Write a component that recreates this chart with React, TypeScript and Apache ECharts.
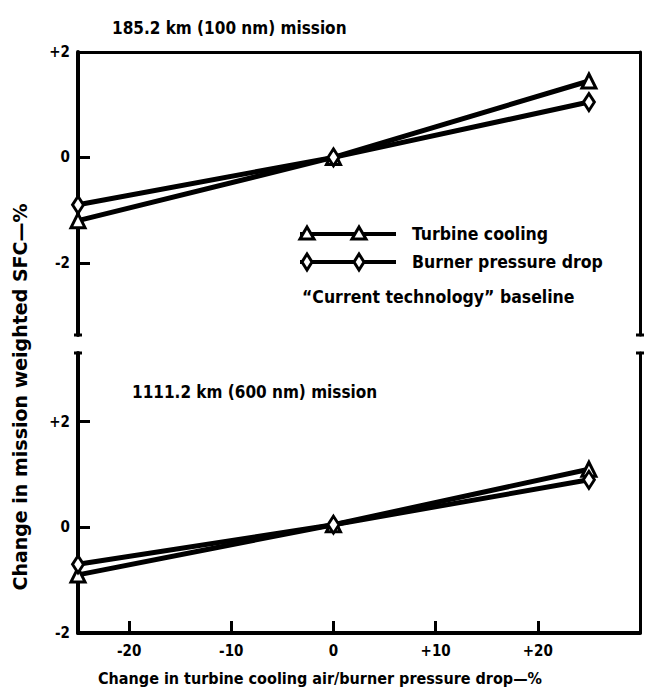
import React, { useEffect, useRef } from "react";
import * as echarts from "echarts";

const xValues = [-25, 0, 25];
const seriesNames = ["Turbine cooling", "Burner pressure drop"];
const shortTurbine = [-1.2, 0, 1.45];
const shortBurner = [-0.9, 0, 1.05];
const longTurbine = [-0.9, 0.05, 1.1];
const longBurner = [-0.7, 0.05, 0.9];
const xTicks = [-20, -10, 0, 10, 20];
const yTicks = [-2, 0, 2];
const panelTitles = ["185.2 km (100 nm) mission", "1111.2 km (600 nm) mission"];
const baselineNote = "\u201cCurrent technology\u201d baseline";
const xTitle = "Change in turbine cooling air/burner pressure drop\u2014%";
const yTitle = "Change in mission weighted SFC\u2014%";

const FONT = "'DejaVu Sans Condensed', 'DejaVu Sans', sans-serif";
const BLACK = "#000";

const fmt = (v: number) => (v > 0 ? "+" + v : String(v));

export default function App() {
  const ref = useRef<HTMLDivElement>(null);
  useEffect(() => {
    if (!ref.current) return;
    const chart = echarts.init(ref.current, undefined, { renderer: "svg" });
    const left = 78;
    const width = 562;
    const lineStyle = { color: BLACK, width: 4 };
    const hiddenAxisBits = {
      axisTick: { show: false },
      axisLabel: { show: false },
      splitLine: { show: false },
    };
    const yAxisLeft = (gridIndex: number, min: number, max: number) => ({
      type: "value",
      gridIndex,
      position: "left",
      min,
      max,
      axisLine: { show: true, onZero: false, lineStyle },
      axisTick: {
        show: true,
        inside: true,
        length: 12,
        customValues: yTicks,
        lineStyle: { color: BLACK, width: 3 },
      },
      axisLabel: {
        show: true,
        customValues: yTicks,
        formatter: fmt,
        color: BLACK,
        fontFamily: FONT,
        fontWeight: "bold",
        fontSize: 15,
        margin: 8,
      },
      splitLine: { show: false },
    });
    const yAxisRight = (gridIndex: number, min: number, max: number) => ({
      type: "value",
      gridIndex,
      position: "right",
      min,
      max,
      axisLine: { show: true, onZero: false, lineStyle: { color: BLACK, width: 3 } },
      ...hiddenAxisBits,
    });
    const mkSeries = (
      name: string,
      data: number[],
      xi: number,
      yi: number,
      symbol: string,
      size: any
    ) => ({
      name,
      type: "line",
      xAxisIndex: xi,
      yAxisIndex: yi,
      data: xValues.map((x, i) => [x, data[i]]),
      symbol,
      symbolSize: size,
      showSymbol: true,
      lineStyle: { color: BLACK, width: 5 },
      itemStyle: { color: "#fff", borderColor: BLACK, borderWidth: 3 },
      z: 3,
    });
    const legendRow = (y: number, symbol: "tri" | "dia", label: string) => {
      const xs = [307, 359];
      const items: any[] = [
        {
          type: "line",
          shape: { x1: 300, y1: y, x2: 396, y2: y },
          style: { stroke: BLACK, lineWidth: 4 },
        },
      ];
      xs.forEach((cx) => {
        if (symbol === "tri") {
          items.push({
            type: "polygon",
            shape: { points: [[cx, y - 7], [cx + 7, y + 5], [cx - 7, y + 5]] },
            style: { fill: "#fff", stroke: BLACK, lineWidth: 3 },
          });
        } else {
          items.push({
            type: "polygon",
            shape: { points: [[cx, y - 8], [cx + 5, y], [cx, y + 8], [cx - 5, y]] },
            style: { fill: "#fff", stroke: BLACK, lineWidth: 3 },
          });
        }
      });
      items.push({
        type: "text",
        x: 412,
        y,
        style: {
          text: label,
          fill: BLACK,
          font: `bold 17.5px ${FONT}`,
          textVerticalAlign: "middle",
        },
      });
      return items;
    };
    // small break serifs at the open ends of the split vertical axes
    const serif = (x: number, y: number) => ({
      type: "line",
      shape: { x1: x - 4, y1: y, x2: x + 4, y2: y },
      style: { stroke: BLACK, lineWidth: 3 },
    });
    chart.setOption({
      animation: false,
      backgroundColor: "#fff",
      grid: [
        { left, top: 52, width, height: 283 },
        { left, top: 353, width, height: 280 },
      ],
      xAxis: [
        {
          type: "value",
          gridIndex: 0,
          position: "top",
          min: -25,
          max: 30,
          axisLine: { show: true, onZero: false, lineStyle: { color: BLACK, width: 3 } },
          ...hiddenAxisBits,
        },
        {
          type: "value",
          gridIndex: 1,
          position: "bottom",
          min: -25,
          max: 30,
          axisLine: { show: true, onZero: false, lineStyle },
          axisTick: {
            show: true,
            inside: true,
            length: 12,
            customValues: xTicks,
            lineStyle: { color: BLACK, width: 3 },
          },
          axisLabel: {
            show: true,
            customValues: xTicks,
            formatter: fmt,
            color: BLACK,
            fontFamily: FONT,
            fontWeight: "bold",
            fontSize: 15,
            margin: 10,
          },
          splitLine: { show: false },
        },
      ],
      yAxis: [
        yAxisLeft(0, -3.37, 2),
        yAxisRight(0, -3.37, 2),
        yAxisLeft(1, -2, 3.3),
        yAxisRight(1, -2, 3.3),
      ],
      series: [
        mkSeries(seriesNames[0], shortTurbine, 0, 0, "triangle", 14),
        mkSeries(seriesNames[1], shortBurner, 0, 0, "diamond", [11, 17]),
        mkSeries(seriesNames[0], longTurbine, 1, 2, "triangle", 14),
        mkSeries(seriesNames[1], longBurner, 1, 2, "diamond", [11, 17]),
      ],
      graphic: [
        serif(78, 335),
        serif(78, 353),
        serif(640, 335),
        serif(640, 353),
        {
          type: "text",
          x: 112,
          y: 28,
          style: {
            text: panelTitles[0],
            fill: BLACK,
            font: `bold 17px ${FONT}`,
            textVerticalAlign: "middle",
          },
        },
        {
          type: "text",
          x: 132,
          y: 392,
          style: {
            text: panelTitles[1],
            fill: BLACK,
            font: `bold 17px ${FONT}`,
            textVerticalAlign: "middle",
          },
        },
        ...legendRow(234, "tri", seriesNames[0]),
        ...legendRow(262, "dia", seriesNames[1]),
        {
          type: "text",
          x: 302,
          y: 297,
          style: {
            text: baselineNote,
            fill: BLACK,
            font: `bold 17.5px ${FONT}`,
            textVerticalAlign: "middle",
          },
        },
        {
          type: "text",
          x: 320,
          y: 678,
          style: {
            text: xTitle,
            fill: BLACK,
            font: `bold 16px ${FONT}`,
            textAlign: "center",
            textVerticalAlign: "middle",
          },
        },
        {
          type: "text",
          x: 20,
          y: 397,
          rotation: Math.PI / 2,
          style: {
            text: yTitle,
            fill: BLACK,
            font: "bold 19px 'DejaVu Sans', sans-serif",
            textAlign: "center",
            textVerticalAlign: "middle",
          },
        },
      ],
    });
    return () => chart.dispose();
  }, []);
  return <div ref={ref} style={{ width: 646, height: 698, position: "absolute", left: 0, top: 0 }} />;
}
